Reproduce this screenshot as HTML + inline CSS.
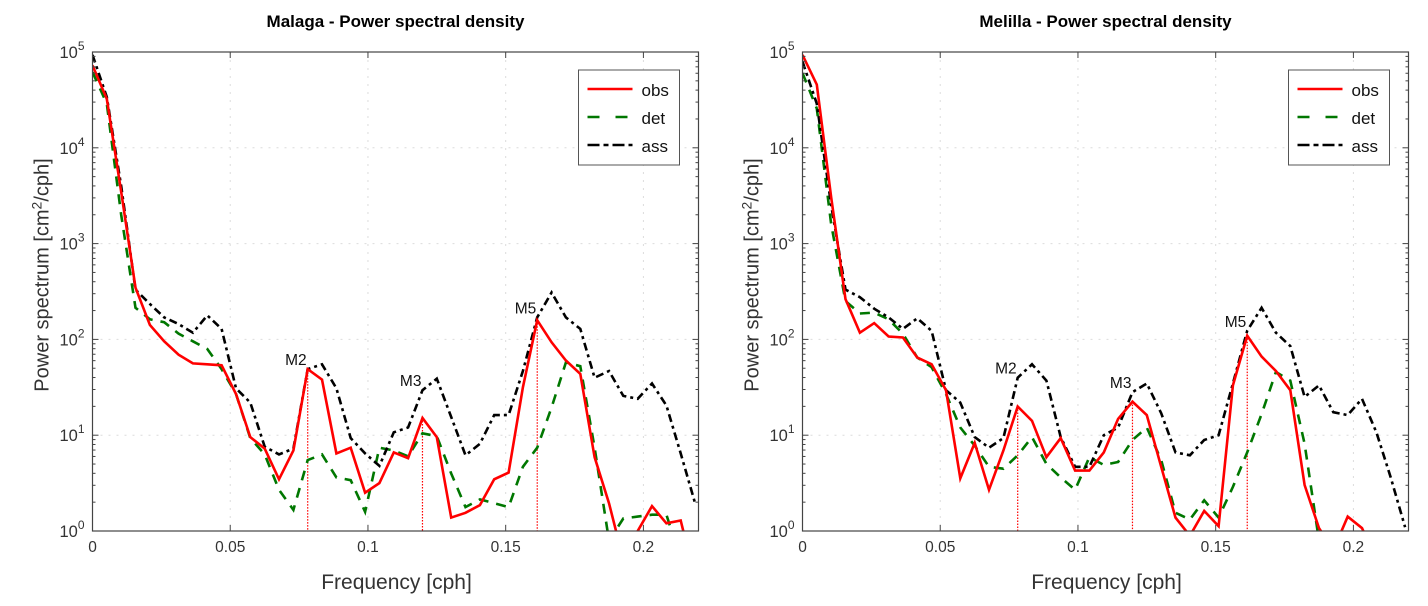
<!DOCTYPE html>
<html><head><meta charset="utf-8">
<style>
html,body{margin:0;padding:0;background:#fff;}
svg{display:block;font-family:"Liberation Sans",sans-serif;}
</style></head>
<body>
<svg id="chart" width="1428" height="606" viewBox="0 0 1428 606" xmlns="http://www.w3.org/2000/svg"></svg>
<script>
// Data: log10(power) at frequency index i (df = 1/192 cph)
const freqStep = 1/192;
const xTicks = [0, 0.05, 0.1, 0.15, 0.2];
const xTickLabels = ["0", "0.05", "0.1", "0.15", "0.2"];
const yDecades = [0, 1, 2, 3, 4, 5];
const malagaObs = [4.86,4.51,3.54,2.54,2.15,1.98,1.84,1.75,1.74,1.73,1.43,0.98,0.86,0.54,0.84,1.69,1.58,0.81,0.87,0.40,0.50,0.82,0.76,1.18,0.98,0.14,0.19,0.27,0.54,0.61,1.50,2.20,1.97,1.78,1.64,0.77,0.29,-0.3,0.0,0.26,0.08,0.11,-0.5];
const malagaDet = [4.79,4.46,3.3,2.33,2.21,2.18,2.06,1.98,1.90,1.69,1.43,0.97,0.80,0.43,0.22,0.74,0.80,0.56,0.53,0.20,0.87,0.84,0.78,1.02,0.99,0.60,0.25,0.33,0.29,0.25,0.67,0.87,1.29,1.76,1.72,0.87,-0.1,0.13,0.15,0.17,0.17,-0.3,-0.5];
const malagaAss = [4.97,4.53,3.6,2.52,2.37,2.23,2.16,2.07,2.25,2.11,1.49,1.34,0.88,0.80,0.86,1.69,1.74,1.49,0.97,0.81,0.68,1.03,1.08,1.47,1.59,1.19,0.79,0.91,1.21,1.21,1.67,2.23,2.49,2.23,2.11,1.60,1.67,1.41,1.38,1.54,1.31,0.81,0.29];
const melillaObs = [4.97,4.66,3.48,2.42,2.07,2.17,2.03,2.02,1.81,1.74,1.47,0.55,0.92,0.43,0.84,1.30,1.15,0.77,0.97,0.63,0.63,0.82,1.17,1.35,1.21,0.67,0.14,-0.05,0.21,0.05,1.52,2.04,1.82,1.67,1.47,0.48,0.03,-0.2,0.15,0.03,-0.3,-0.5,-0.5];
const melillaDet = [4.78,4.41,3.2,2.40,2.27,2.28,2.21,2.06,1.81,1.71,1.43,1.08,0.89,0.67,0.65,0.79,0.98,0.70,0.56,0.43,0.77,0.69,0.72,0.95,1.08,0.74,0.19,0.12,0.32,0.14,0.46,0.82,1.22,1.66,1.57,0.91,-0.1,-0.5,-0.5,-0.5,-0.5,-0.5,-0.5];
const melillaAss = [4.90,4.46,3.4,2.52,2.44,2.32,2.23,2.11,2.22,2.09,1.47,1.34,0.98,0.87,0.97,1.60,1.74,1.57,0.98,0.67,0.67,1.00,1.08,1.45,1.54,1.23,0.82,0.79,0.95,1.00,1.54,2.09,2.33,2.07,1.93,1.40,1.52,1.24,1.21,1.38,1.03,0.56,0.04];
const tideNames = ["M2","M3","M5"];
const tideIdx = [15,23,31];

const NS="http://www.w3.org/2000/svg";
const svg=document.getElementById('chart');
function mk(tag,attrs,parent){const e=document.createElementNS(NS,tag);for(const k in attrs)e.setAttribute(k,attrs[k]);(parent||svg).appendChild(e);return e;}

function panel(cfg){
  const L=cfg.left,R=cfg.right,T=52,B=531;
  const xs=f=>L+f/0.22*(R-L);
  const ys=v=>B-v/5*(B-T);
  const g=mk('g',{});
  
  
  const cid='clip-'+cfg.key;
  const defs=mk('defs',{},g);
  const cp=mk('clipPath',{id:cid},defs);
  mk('rect',{x:L,y:T,width:R-L,height:B-T},cp);
  const grid=mk('g',{stroke:'#dcdcdc','stroke-width':1,'stroke-dasharray':'2,6'},g);
  
  
  xTicks.forEach(t=>{if(t>0)mk('line',{x1:xs(t),x2:xs(t),y1:T,y2:B},grid);});
  yDecades.forEach(d=>{if(d>0&&d<5)mk('line',{x1:L,x2:R,y1:ys(d),y2:ys(d)},grid);});
  const ti=mk('text',{x:(L+R)/2,y:27,'text-anchor':'middle','font-size':17,'font-weight':'bold',fill:'#000'},g);
  ti.textContent=cfg.title;
  
  
  const series=[[cfg.det,'#007700',2.6,'10,8',cfg.key+'-det-line'],[cfg.ass,'#000',2.6,'8,4,3,4',cfg.key+'-ass-line'],[cfg.obs,'#ff0000',2.6,'',cfg.key+'-obs-line']];
  const dg=mk('g',{'clip-path':'url(#'+cid+')'},g);
  tideIdx.forEach((ti2,k)=>{
    const x=xs(ti2*freqStep),v=cfg.obs[ti2];
    const ln=mk('line',{x1:x,x2:x,y1:ys(v),y2:B,stroke:'#ff0000','stroke-width':1.2,'stroke-dasharray':'1.5,1.5'},dg);
    
    
  });
  series.forEach(s=>{
    const pts=s[0].map((v,i)=>xs(i*freqStep).toFixed(1)+','+ys(v).toFixed(1)).join(' ');
    const p=mk('polyline',{points:pts,fill:'none',stroke:s[1],'stroke-width':s[2],'stroke-linejoin':'miter'},dg);
    if(s[3])p.setAttribute('stroke-dasharray',s[3]);
    
    
  });
  tideIdx.forEach((ti2,k)=>{
    const x=xs(ti2*freqStep),v=Math.max(cfg.obs[ti2],cfg.ass[ti2]);
    const t=mk('text',{x:x-1,y:ys(v)-4,'text-anchor':'end','font-size':15.5,fill:'#111'},g);
    t.textContent=tideNames[k];
    
    
  });
  const box=mk('rect',{x:L,y:T,width:R-L,height:B-T,fill:'none',stroke:'#444','stroke-width':1.2},g);
  
  
  const tk=mk('g',{stroke:'#444','stroke-width':1},g);
  xTicks.forEach((t,i)=>{
    const x=xs(t);
    mk('line',{x1:x,x2:x,y1:B,y2:B-6},tk);mk('line',{x1:x,x2:x,y1:T,y2:T+6},tk);
    const lb=mk('text',{x:x,y:B+21,'text-anchor':'middle','font-size':15.5,fill:'#333'},g);
    lb.textContent=xTickLabels[i];
    
    
  });
  yDecades.forEach(d=>{
    const y=ys(d);
    mk('line',{x1:L,x2:L+6,y1:y,y2:y},tk);mk('line',{x1:R,x2:R-6,y1:y,y2:y},tk);
    if(d<5){for(let m=2;m<10;m++){const yy=ys(d+Math.log10(m));mk('line',{x1:L,x2:L+3,y1:yy,y2:yy},tk);mk('line',{x1:R,x2:R-3,y1:yy,y2:yy},tk);}}
    const lb=mk('text',{x:L-8,y:y+6,'text-anchor':'end','font-size':16.5,fill:'#333'},g);
    
    
    const a=document.createElementNS(NS,'tspan');a.textContent='10';lb.appendChild(a);
    const b=document.createElementNS(NS,'tspan');b.setAttribute('dy','-8');b.setAttribute('font-size','12');b.textContent=String(d);lb.appendChild(b);
  });
  const xt=mk('text',{x:(L+R)/2+1,y:589,'text-anchor':'middle','font-size':21,fill:'#333'},g);
  xt.textContent='Frequency [cph]';
  
  
  const yt=mk('text',{x:0,y:0,'text-anchor':'middle','font-size':20,fill:'#333',transform:'translate('+(L-44)+',275) rotate(-90)'},g);
  
  
  const s1=document.createElementNS(NS,'tspan');s1.textContent='Power spectrum [cm';yt.appendChild(s1);
  const s2=document.createElementNS(NS,'tspan');s2.setAttribute('dy','-7');s2.setAttribute('font-size','14');s2.textContent='2';yt.appendChild(s2);
  const s3=document.createElementNS(NS,'tspan');s3.setAttribute('dy','7');s3.textContent='/cph]';yt.appendChild(s3);
  const lg=mk('g',{},g);
  
  
  const lx=R-120;
  mk('rect',{x:lx,y:70,width:101,height:95,fill:'#fff',stroke:'#555','stroke-width':1},lg);
  const items=[['obs','#ff0000',''],['det','#007700','12,16'],['ass','#000','12,4,5,4']];
  items.forEach((it,k)=>{
    const y=89+k*28;
    const ln=mk('line',{x1:lx+9,x2:lx+54,y1:y,y2:y,stroke:it[1],'stroke-width':2.6},lg);
    if(it[2])ln.setAttribute('stroke-dasharray',it[2]);
    
    
    const t=mk('text',{x:lx+63,y:y+7,'font-size':17,fill:'#111'},lg);
    t.textContent=it[0];
    
    
  });
}
panel({key:'malaga',left:92.5,right:698.5,title:'Malaga - Power spectral density',obs:malagaObs,det:malagaDet,ass:malagaAss});
panel({key:'melilla',left:802.5,right:1408.5,title:'Melilla - Power spectral density',obs:melillaObs,det:melillaDet,ass:melillaAss});
</script>
</body></html>
